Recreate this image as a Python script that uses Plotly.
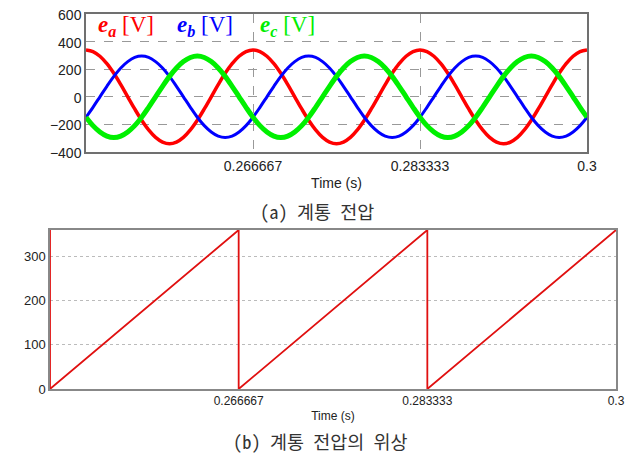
import numpy as np
import plotly.graph_objects as go

# ---- data ----
# sample times: 15-degree steps of a 60 Hz cycle across 0.25 .. 0.3 s
t_wave = np.linspace(0.25, 0.3, 73)

e_a = [340, 328, 294, 240, 170, 88, 0, -88, -170, -240, -294, -328,
       -340, -328, -294, -240, -170, -88, 0, 88, 170, 240, 294, 328,
       340, 328, 294, 240, 170, 88, 0, -88, -170, -240, -294, -328,
       -340, -328, -294, -240, -170, -88, 0, 88, 170, 240, 294, 328,
       340, 328, 294, 240, 170, 88, 0, -88, -170, -240, -294, -328,
       -340, -328, -294, -240, -170, -88, 0, 88, 170, 240, 294, 328,
       340]
e_b = [-148, -76, 0, 76, 148, 209, 255, 285, 295, 285, 255, 209,
       148, 76, 0, -76, -148, -209, -255, -285, -295, -285, -255, -209,
       -148, -76, 0, 76, 148, 209, 255, 285, 295, 285, 255, 209,
       148, 76, 0, -76, -148, -209, -255, -285, -295, -285, -255, -209,
       -148, -76, 0, 76, 148, 209, 255, 285, 295, 285, 255, 209,
       148, 76, 0, -76, -148, -209, -255, -285, -295, -285, -255, -209,
       -148]
e_c = [-148, -209, -255, -285, -295, -285, -255, -209, -148, -76, 0, 76,
       148, 209, 255, 285, 295, 285, 255, 209, 148, 76, 0, -76,
       -148, -209, -255, -285, -295, -285, -255, -209, -148, -76, 0, 76,
       148, 209, 255, 285, 295, 285, 255, 209, 148, 76, 0, -76,
       -148, -209, -255, -285, -295, -285, -255, -209, -148, -76, 0, 76,
       148, 209, 255, 285, 295, 285, 255, 209, 148, 76, 0, -76,
       -148]

t_phase = [0.25, 0.25, 0.266667, 0.266667, 0.283333, 0.283333, 0.3]
phase = [360, 0, 360, 0, 360, 0, 360]

x_tickvals = [0.266667, 0.283333, 0.3]
x_ticktext = ["0.266667", "0.283333", "0.3"]
top_yticks = [-400, -200, 0, 200, 400, 600]
bot_yticks = [0, 100, 200, 300]

# page body has an 8px margin: draw a 630x449 figure and map reference pixels into it
OFF = 8
W, H = 638 - OFF, 457 - OFF
def px(x): return (x - OFF) / W
def py(y): return 1 - (y - OFF) / H

fig = go.Figure()
fig.add_trace(go.Scatter(x=t_wave, y=e_a, mode="lines", line=dict(color="#ff0000", width=3.5, shape="spline"),
                         xaxis="x", yaxis="y", showlegend=False))
fig.add_trace(go.Scatter(x=t_wave, y=e_b, mode="lines", line=dict(color="#0000ff", width=3, shape="spline"),
                         xaxis="x", yaxis="y", showlegend=False))
fig.add_trace(go.Scatter(x=t_wave, y=e_c, mode="lines", line=dict(color="#00f000", width=5, shape="spline"),
                         xaxis="x", yaxis="y", showlegend=False))
fig.add_trace(go.Scatter(x=t_phase, y=phase, mode="lines", line=dict(color="#e01010", width=1.8),
                         xaxis="x2", yaxis="y2", showlegend=False, cliponaxis=False))

axfont = dict(family="Arial, Liberation Sans, sans-serif", color="#222")
fig.update_layout(
    width=W, height=H, margin=dict(l=0, r=0, t=0, b=0, autoexpand=False),
    paper_bgcolor="white", plot_bgcolor="white",
    xaxis=dict(domain=[px(86), px(587)], range=[0.25, 0.3], anchor="y", automargin=False,
               tickvals=x_tickvals, ticktext=x_ticktext, ticks="",
               tickfont=dict(size=14, **axfont),
               showgrid=True, gridcolor="#999", griddash="dash", gridwidth=1,
               showline=True, linecolor="#707070", linewidth=1.5, mirror=True,
               zeroline=False,
               title=dict(text="Time (s)", font=dict(size=14, **axfont), standoff=6)),
    yaxis=dict(domain=[py(152), py(14)], range=[-400, 600], anchor="x", automargin=False,
               tickvals=top_yticks, ticks="", tickfont=dict(size=14, **axfont),
               ticklabeloverflow="allow", ticklabelshift=1,
               showgrid=True, gridcolor="#999", griddash="dash", gridwidth=1,
               showline=True, linecolor="#707070", linewidth=1.5, mirror=True,
               zeroline=False),
    xaxis2=dict(domain=[px(50), px(616)], range=[0.25, 0.3], anchor="y2", automargin=False,
                tickvals=x_tickvals, ticktext=x_ticktext, ticks="",
                tickfont=dict(size=12, **axfont),
                showgrid=False,
                showline=True, linecolor="#888", linewidth=1.5, mirror=True,
                zeroline=False,
                title=dict(text="Time (s)", font=dict(size=12, **axfont), standoff=4)),
    yaxis2=dict(domain=[py(389), py(230)], range=[0, 360], anchor="x2", automargin=False,
                tickvals=bot_yticks, ticks="", tickfont=dict(size=13, **axfont),
                showgrid=True, gridcolor="#bbb", griddash="dot", gridwidth=1,
                showline=True, linecolor="#888", linewidth=1.5, mirror=True,
                zeroline=False),
)

serif = "Liberation Serif, Times New Roman, serif"
labels = [("a", "#ff0000", 96), ("b", "#0000ff", 175), ("c", "#00ee00", 258)]
for sub, col, x0 in labels:
    fig.add_annotation(
        x=px(x0), y=py(26), xref="paper", yref="paper", xanchor="left", yanchor="middle",
        text=f"<b><i>e</i></b><sub><b><i>{sub}</i></b></sub> [V]", showarrow=False,
        font=dict(family=serif, size=23, color=col))

kfont = dict(family="Noto Sans Mono CJK KR, Noto Sans CJK KR, sans-serif", size=18.5, color="#333")
fig.add_annotation(x=px(317), y=py(211), xref="paper", yref="paper", text="(a) 계통 전압",
                   showarrow=False, font=kfont, xanchor="center", yanchor="middle")
fig.add_annotation(x=px(320), y=py(441), xref="paper", yref="paper", text="(b) 계통 전압의 위상",
                   showarrow=False, font=kfont, xanchor="center", yanchor="middle")

fig.write_html("out.html")
